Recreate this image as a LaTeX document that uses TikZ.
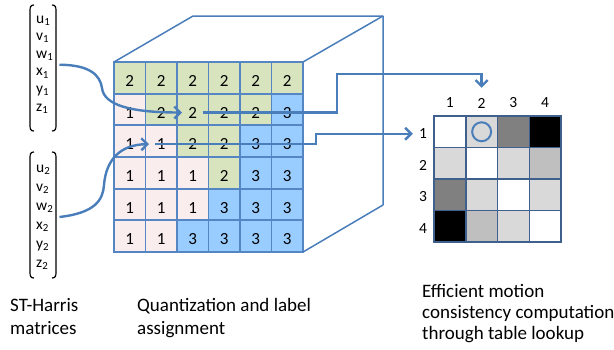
\documentclass[tikz,border=0pt]{standalone}
\usepackage{fontspec}
\setmainfont{Carlito}
\usetikzlibrary{arrows.meta,calc}
\definecolor{ublue}{HTML}{4A7EBB}
\definecolor{gridblue}{HTML}{5585C2}
\definecolor{qc1}{HTML}{F9EDED}
\definecolor{qc2}{HTML}{D7E4BD}
\definecolor{qc3}{HTML}{99CCFF}
\definecolor{tgrid}{HTML}{3F5F8C}
\definecolor{tc0}{HTML}{FFFFFF}
\definecolor{tc1}{HTML}{D9D9D9}
\definecolor{tc2}{HTML}{BFBFBF}
\definecolor{tc3}{HTML}{808080}
\definecolor{tc4}{HTML}{000000}
\begin{document}
\begin{tikzpicture}[x=1pt,y=-1pt,
  qcell/.style={draw=gridblue,line width=1.8pt,minimum width=31.5pt,minimum height=31.67pt,
    inner sep=0pt,outer sep=0pt,font=\fontsize{17}{17}\selectfont,text height=17pt,text depth=0pt},
  tcell/.style={draw=tgrid,line width=1.5pt,minimum width=31.75pt,minimum height=31.5pt,
    inner sep=0pt,outer sep=0pt},
  lab/.style={inner sep=0pt,font=\fontsize{15.5}{15.5}\selectfont},
  ment/.style={anchor=west,inner sep=1pt,font=\fontsize{15.5}{15.5}\selectfont},
  captext/.style={anchor=base west,inner sep=0pt,font=\fontsize{19}{23}\selectfont},
  cube/.style={draw=ublue,line width=1.5pt,line join=round},
  arr/.style={draw=ublue,line width=2.4pt,-{Straight Barb[length=6pt,width=12pt]}},
  brk/.style={draw=black,line width=1.2pt}
]
\useasboundingbox (0,0) rectangle (614,349);

% ---- ST-Harris matrices
\foreach \t [count=\i] in {u,v,w,x,y,z}{
  \node[ment] (m1-\i) at (35,{20.5+(\i-1)*17.6}) {\t\textsubscript{1}};
  \node[ment] (m2-\i) at (35,{170+(\i-1)*19}) {\t\textsubscript{2}};
}
\draw[brk] (34,5) .. controls (30.5,5) and (30,7) .. (30,11) -- (30,125) .. controls (30,129) and (30.5,131) .. (34,131);
\draw[brk] (52,5) .. controls (55.5,5) and (56,7) .. (56,11) -- (56,125) .. controls (56,129) and (55.5,131) .. (52,131);
\draw[brk] (34,152) .. controls (30.5,152) and (30,154) .. (30,158) -- (30,272) .. controls (30,276) and (30.5,278) .. (34,278);
\draw[brk] (52,152) .. controls (55.5,152) and (56,154) .. (56,158) -- (56,272) .. controls (56,276) and (55.5,278) .. (52,278);

% ---- cube
\foreach \row [count=\r] in {{2,2,2,2,2,2},{1,2,2,2,2,3},{1,1,2,2,3,3},{1,1,1,2,3,3},{1,1,1,3,3,3},{1,1,3,3,3,3}}{
  \foreach \v [count=\c] in \row {
    \node[qcell,fill=qc\v] (q-\r-\c) at ({114+(\c-0.5)*31.5},{62+(\r-0.5)*31.67}) {\v};
  }
}
\draw[cube] (q-1-1.north west) -- (193,16) -- (383,16) -- (383,205) -- (q-6-6.south east);
\draw[cube] (q-1-6.north east) -- (383,16);

% ---- table
\foreach \row [count=\r] in {{0,1,3,4},{1,0,1,2},{3,1,0,1},{4,2,1,0}}{
  \foreach \v [count=\c] in \row {
    \node[tcell,fill=tc\v] (t-\r-\c) at ({434+(\c-0.5)*31.75},{116+(\r-0.5)*31.5}) {};
  }
}
\foreach \i in {1,2,3,4}{
  \node[lab] (tc-\i) at ({434+(\i-0.5)*31.75},103) {\i};
  \node[lab] (tr-\i) at (423,{118+(\i-0.5)*31.5}) {\i};
}
\node[circle,draw=ublue,line width=2pt,minimum size=19pt,inner sep=0pt] (circ) at (t-1-2.center) {};

% ---- connectors
\draw[arr] ([xshift=5pt,yshift=-3pt]m1-3.south east) .. controls (90,65) and (100,75) .. (102,88)
  .. controls (104,105) and (130,112.5) .. ([xshift=5pt,yshift=-3pt]q-2-3.west);
\draw[arr] ([xshift=5pt,yshift=-3pt]m2-3.south east) .. controls (95,213) and (103,200) .. (104,185)
  .. controls (106,160) and (120,144.5) .. ([xshift=3.5pt,yshift=-3pt]q-3-2.west);
\coordinate (j1) at (337,74);
\coordinate (j2) at (316,133);
\draw[arr] ([xshift=10pt,yshift=-3pt]q-2-3.center) -| (j1) -| ([yshift=10pt]tc-2.north);
\draw[arr] ([xshift=-22pt,yshift=-3pt]q-3-2.east) -| (j2) |- ([xshift=-6pt]tr-1.west);

% ---- captions
\node[captext] (c1a) at (10,311) {ST-Harris};
\node[captext] (c1b) at (10,334.5) {matrices};
\node[captext] (c2a) at (137,311) {Quantization and label};
\node[captext] (c2b) at (137,334.5) {assignment};
\node[captext] (c3a) at (422,297) {Efficient motion};
\node[captext] (c3b) at (422,318.3) {consistency computation};
\node[captext] (c3c) at (422,339.6) {through table lookup};
\end{tikzpicture}
\end{document}
